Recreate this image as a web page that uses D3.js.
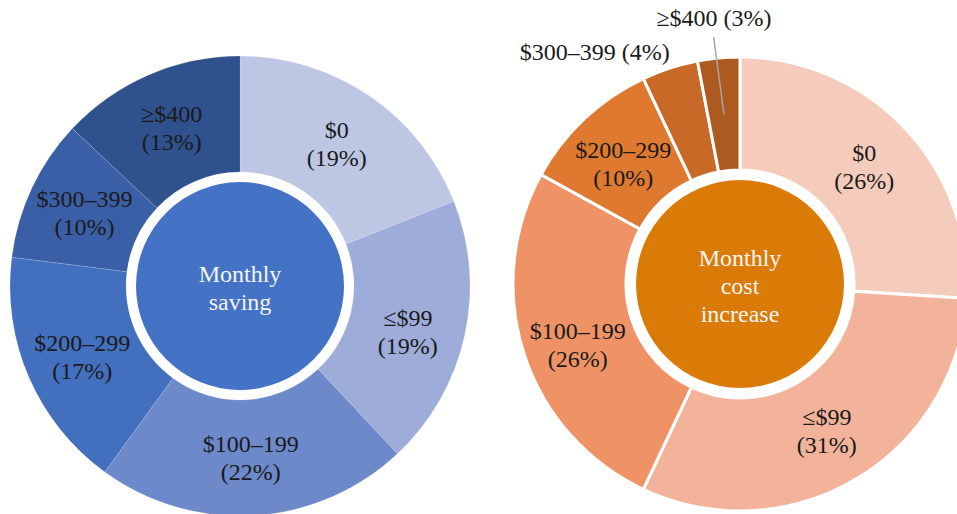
<!DOCTYPE html>
<html>
<head>
<meta charset="utf-8">
<script src="https://cdn.jsdelivr.net/npm/d3@7"></script>
<style>
  body { margin: 0; background: #fff; }
  svg { display: block; }
</style>
</head>
<body>
<svg id="chart" width="957" height="514"></svg>
<script>
// DATA
var savingCats = ['$0', '\u2264$99', '$100\u2013199', '$200\u2013299', '$300\u2013399', '\u2265$400'];
var savingPct = [19, 19, 22, 17, 10, 13];
var savingColors = ['#BDC7E4', '#9DACD8', '#6D89CA', '#4270BE', '#3A5FA6', '#2F518D'];

var costCats = ['$0', '\u2264$99', '$100\u2013199', '$200\u2013299', '$300\u2013399', '\u2265$400'];
var costPct = [26, 31, 26, 10, 4, 3];
var costColors = ['#F5CBBB', '#F2B39A', '#EF9367', '#E07930', '#C86927', '#AD5A20'];

var FONT = '"Liberation Serif", "Times New Roman", serif';

var svg = d3.select('#chart');

var pie = d3.pie().sort(null).value(d => d);

function donut(opts) {
	var g = svg.append('g').attr('transform', `translate(${opts.cx},${opts.cy})`);
	var arc = d3.arc().innerRadius(opts.inner).outerRadius(opts.outer);
	var arcs = pie(opts.values);

	g.selectAll('path.slice')
		.data(arcs)
		.join('path')
		.attr('class', 'slice')
		.attr('d', arc)
		.attr('fill', (d, i) => opts.colors[i])
		.attr('stroke', opts.stroke)
		.attr('stroke-width', opts.strokeWidth);

	// centre disk
	g.append('circle').attr('r', opts.disk).attr('fill', opts.center);

	var lines = opts.title;
	var lh = 28;
	g.append('text')
		.attr('text-anchor', 'middle')
		.style('font-family', FONT)
		.attr('fill', '#F4F4F4')
		.attr('font-size', 24)
		.selectAll('tspan')
		.data(lines)
		.join('tspan')
		.attr('x', 0)
		.attr('y', (d, i) => (i - (lines.length - 1) / 2) * lh + 2)
		.attr('dominant-baseline', 'central')
		.text(d => d);

	// labels
	arcs.forEach((d, i) => {
		var label = opts.cats[i];
		var pct = '(' + opts.values[i] + '%)';
		var out = opts.outside[i];
		if (out) {
			var mid = (d.startAngle + d.endAngle) / 2;
			if (out.leader) {
				var r0 = (opts.inner + opts.outer) / 2, r1 = out.leader;
				g.append('line')
					.attr('x1', r0 * Math.sin(mid)).attr('y1', -r0 * Math.cos(mid))
					.attr('x2', r1 * Math.sin(mid) - 3).attr('y2', -r1 * Math.cos(mid))
					.attr('stroke', '#A6A6A6').attr('stroke-width', 1.5);
			}
			g.append('text')
				.attr('text-anchor', 'middle')
				.attr('dominant-baseline', 'central')
				.style('font-family', FONT)
				.attr('font-size', 24)
				.attr('fill', '#1A1A1A')
				.attr('x', out.r * Math.sin(out.a * Math.PI / 180))
				.attr('y', -out.r * Math.cos(out.a * Math.PI / 180))
				.text(label + ' ' + pct);
		} else {
			var c = arc.centroid(d);
			var nudge = opts.nudge[i] || 0;
			g.append('text')
				.attr('text-anchor', 'middle')
				.style('font-family', FONT)
				.attr('font-size', 24)
				.attr('fill', '#1A1A1A')
				.selectAll('tspan')
				.data([label, pct])
				.join('tspan')
				.attr('x', c[0])
				.attr('y', (t, j) => c[1] + nudge + (j - 0.5) * lh)
				.attr('dominant-baseline', 'central')
				.text(t => t);
		}
	});
}

donut({
	cx: 240, cy: 286, outer: 230, inner: 114, disk: 104,
	values: savingPct, cats: savingCats, colors: savingColors,
	center: '#4472C4', title: ['Monthly', 'saving'],
	stroke: 'rgba(255,255,255,0.25)', strokeWidth: 0.6,
	outside: [], nudge: [0, 8, 0, 3, 0, 0]
});

donut({
	cx: 740, cy: 284, outer: 227, inner: 114, disk: 104,
	values: costPct, cats: costCats, colors: costColors,
	center: '#DA7B07', title: ['Monthly', 'cost', 'increase'],
	stroke: '#fff', strokeWidth: 3,
	outside: [null, null, null, null, { a: 328, r: 274 }, { a: 354.4, r: 267, leader: 248 }],
	nudge: [0, 0, 8, 4, 0, 0]
});
</script>
</body>
</html>
